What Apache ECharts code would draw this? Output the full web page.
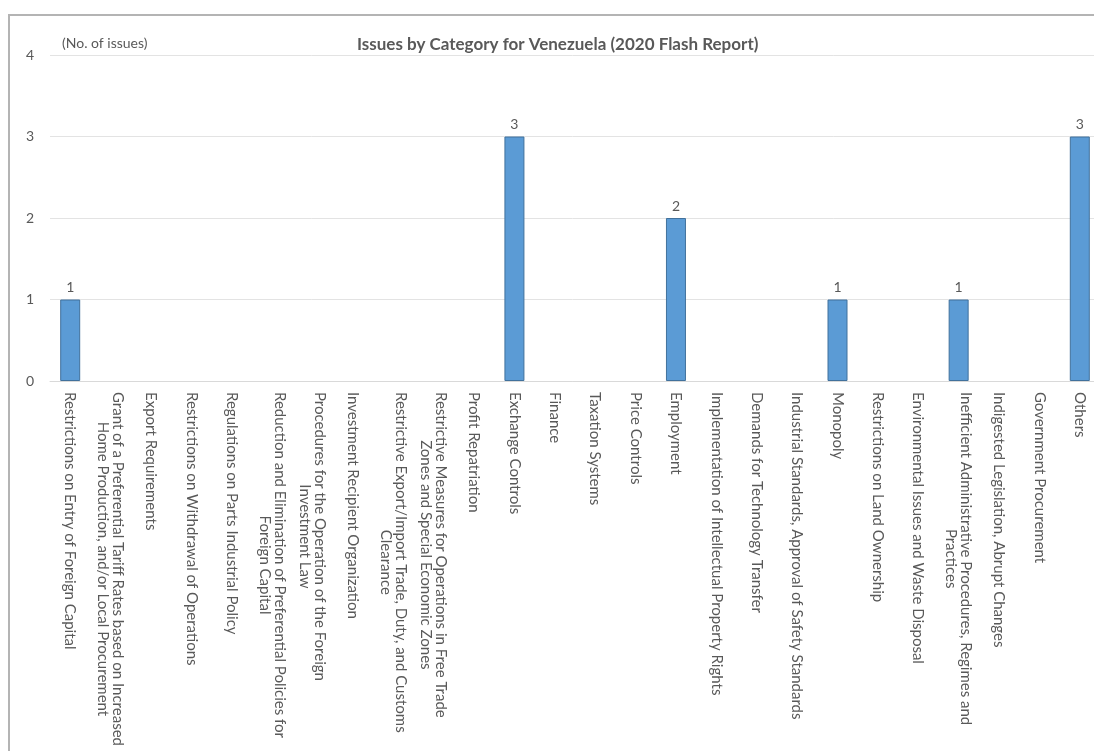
<!DOCTYPE html>
<html>
<head>
<meta charset="utf-8">
<script src="https://cdn.jsdelivr.net/npm/echarts@6/dist/echarts.min.js"></script>
<style>
  html, body { margin: 0; padding: 0; background: #ffffff; }
  #chart { width: 1094px; height: 751px; }
</style>
</head>
<body>
<div id="chart"></div>
<script>
// Issue categories (line breaks mark where long names wrap)
const categories = [
  'Restrictions on Entry of Foreign Capital',
  'Grant of a Preferential Tariff Rates based on Increased\nHome Production, and/or Local Procurement',
  'Export Requirements',
  'Restrictions on Withdrawal of Operations',
  'Regulations on Parts Industrial Policy',
  'Reduction and Elimination of Preferential Policies for\nForeign Capital',
  'Procedures for the Operation of the Foreign\nInvestment Law',
  'Investment Recipient Organization',
  'Restrictive Export/Import Trade, Duty, and Customs\nClearance',
  'Restrictive Measures for Operations in Free Trade\nZones and Special Economic Zones',
  'Profit Repatriation',
  'Exchange Controls',
  'Finance',
  'Taxation Systems',
  'Price Controls',
  'Employment',
  'Implementation of Intellectual Property Rights',
  'Demands for Technology Transfer',
  'Industrial Standards, Approval of Safety Standards',
  'Monopoly',
  'Restrictions on Land Ownership',
  'Environmental Issues and Waste Disposal',
  'Inefficient Administrative Procedures, Regimes and\nPractices',
  'Indigested Legislation, Abrupt Changes',
  'Government Procurement',
  'Others'
];

// Number of issues reported per category
const issueCounts = [1, 0, 0, 0, 0, 0, 0, 0, 0, 0, 0, 3, 0, 0, 0, 2, 0, 0, 0, 1, 0, 0, 1, 0, 0, 3];

// Value axis range
const valueAxisMin = 0;
const valueAxisMax = 4;
const valueAxisStep = 1;

const chartTitle = 'Issues by Category for Venezuela (2020 Flash Report)';
const valueAxisName = '(No. of issues)';

const textGrey = '#595959';
const fontFamily = 'Lato, "Noto Sans", sans-serif';

const chart = echarts.init(document.getElementById('chart'), null, { renderer: 'canvas' });

chart.setOption({
  backgroundColor: '#ffffff',
  animation: false,
  title: {
    text: chartTitle,
    left: 352,
    top: 31,
    textStyle: { color: textGrey, fontFamily: fontFamily, fontSize: 17, fontWeight: 'bold' }
  },
  graphic: [{
    type: 'rect',
    silent: true,
    shape: { x: 9, y: 15, width: 1300, height: 900 },
    style: { fill: 'none', stroke: '#b4b4b4', lineWidth: 2 }
  }],
  grid: {
    left: 50,
    top: 55,
    width: 1050,
    height: 326,
    containLabel: false,
    outerBoundsMode: 'none'
  },
  xAxis: {
    type: 'category',
    data: categories,
    axisLine: { show: true, lineStyle: { color: '#d9d9d9', width: 1 } },
    axisTick: { show: false },
    axisLabel: {
      interval: 0,
      rotate: -90,
      margin: 11,
      hideOverlap: false,
      formatter: function (value) {
        return value.split('\n').map(function (line) { return '{c|' + line + '}'; }).join('\n');
      },
      rich: {
        c: {
          align: 'center',
          color: textGrey,
          fontFamily: fontFamily,
          fontSize: 15,
          lineHeight: 15
        }
      }
    }
  },
  yAxis: {
    type: 'value',
    min: valueAxisMin,
    max: valueAxisMax,
    interval: valueAxisStep,
    name: valueAxisName,
    nameLocation: 'end',
    nameGap: 5,
    nameTextStyle: {
      align: 'left',
      color: textGrey,
      fontFamily: fontFamily,
      fontSize: 14,
      padding: [0, 0, 0, 12]
    },
    axisLine: { show: false },
    axisTick: { show: false },
    axisLabel: {
      margin: 16,
      color: textGrey,
      fontFamily: fontFamily,
      fontSize: 14
    },
    splitLine: { show: true, lineStyle: { color: '#e3e3e3', width: 1 } }
  },
  series: [{
    type: 'bar',
    data: issueCounts.map(function (v) { return v === 0 ? null : v; }),
    barWidth: 20,
    itemStyle: { color: '#5b9bd5', borderColor: '#41719c', borderWidth: 1 },
    label: {
      show: true,
      position: 'top',
      distance: 5,
      color: textGrey,
      fontFamily: fontFamily,
      fontSize: 14
    }
  }]
});
</script>
</body>
</html>
